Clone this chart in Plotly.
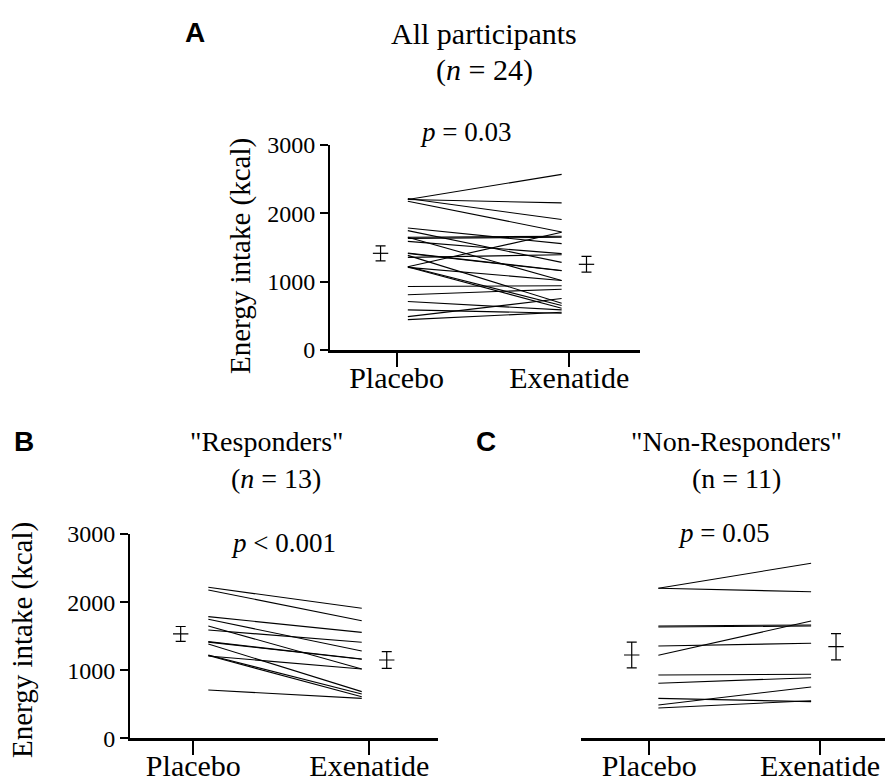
import plotly.graph_objects as go

# ---------------- data (kcal) ----------------
categories = ["Placebo", "Exenatide"]

# Responders (n = 13)
resp_placebo = [2217, 2178, 1786, 1747, 1649, 1590, 1419, 1412, 1385, 1223, 1215, 1209, 709]
resp_exenatide = [1909, 1727, 1556, 1282, 1018, 1410, 1164, 1160, 685, 651, 611, 1018, 587]

# Non-responders (n = 11)
nonresp_placebo = [2203, 2203, 1649, 1634, 1219, 1355, 930, 808, 587, 489, 445]
nonresp_exenatide = [2570, 2153, 1664, 1649, 1722, 1395, 940, 890, 538, 753, 552]

# All participants = responders + non-responders
all_placebo = resp_placebo + nonresp_placebo
all_exenatide = resp_exenatide + nonresp_exenatide

# mean and SEM
all_mean = [1415, 1254]
all_sem = [110, 115]
resp_mean = [1532, 1150]
resp_sem = [110, 122]
nonresp_mean = [1223, 1345]
nonresp_sem = [189, 193]

y_ticks = [0, 1000, 2000, 3000]

# ---------------- layout helpers ----------------
W, H = 885, 782
SERIF = "Liberation Serif"
SANS = "Liberation Sans"


def px_x(p):
    return p / W


def px_y(p):
    return 1 - p / H


panels = [
    dict(name="A", x="x", y="y", pl=all_placebo, ex=all_exenatide, mean=all_mean, sem=all_sem,
         line_x=(0.065, 0.956), bar_x=(-0.093, 1.10)),
    dict(name="B", x="x2", y="y2", pl=resp_placebo, ex=resp_exenatide, mean=resp_mean, sem=resp_sem,
         line_x=(0.085, 0.957), bar_x=(-0.072, 1.099)),
    dict(name="C", x="x3", y="y3", pl=nonresp_placebo, ex=nonresp_exenatide, mean=nonresp_mean,
         sem=nonresp_sem, line_x=(0.053, 0.948), bar_x=(-0.103, 1.094)),
]

fig = go.Figure()

for p in panels:
    xs, ys = [], []
    for a, b in zip(p["pl"], p["ex"]):
        xs += [p["line_x"][0], p["line_x"][1], None]
        ys += [a, b, None]
    fig.add_trace(go.Scatter(x=xs, y=ys, mode="lines", xaxis=p["x"], yaxis=p["y"],
                             line=dict(color="black", width=1.1), showlegend=False,
                             hoverinfo="skip"))
    fig.add_trace(go.Scatter(x=list(p["bar_x"]), y=p["mean"], mode="markers",
                             xaxis=p["x"], yaxis=p["y"],
                             marker=dict(symbol="line-ew-open", size=11, color="black",
                                         line=dict(color="black", width=1.2)),
                             error_y=dict(type="data", array=p["sem"], visible=True,
                                          color="black", thickness=1.2, width=5),
                             showlegend=False))

common_x = dict(tickmode="array", tickvals=[0, 1], ticktext=categories, automargin=False,
                showline=True, linecolor="black", linewidth=3, ticks="outside",
                ticklen=14, tickwidth=2, tickcolor="black", showgrid=False, zeroline=False,
                ticklabelstandoff=-15,
                tickfont=dict(family=SERIF, size=30, color="black"), fixedrange=True)
common_y = dict(range=[0, 3000], tickmode="array", tickvals=y_ticks, automargin=False,
                showline=True, linecolor="black", linewidth=2, ticks="outside",
                ticklen=8, tickwidth=2, tickcolor="black", showgrid=False, zeroline=False,
                tickfont=dict(family=SERIF, size=24, color="black"), fixedrange=True)

fig.update_layout(
    template="none",
    width=W, height=H, margin=dict(l=0, r=0, t=0, b=0, pad=0, autoexpand=False),
    autosize=False, showlegend=False,
    paper_bgcolor="white", plot_bgcolor="white",
    xaxis=dict(common_x, domain=[px_x(330), px_x(640)], range=[-0.386, 1.41], anchor="y"),
    yaxis=dict(common_y, domain=[px_y(350), px_y(145)], anchor="x"),
    xaxis2=dict(common_x, domain=[px_x(130), px_x(438.3)], range=[-0.36, 1.392], anchor="y2"),
    yaxis2=dict(common_y, domain=[px_y(738.3), px_y(534)], anchor="x2"),
    xaxis3=dict(common_x, domain=[px_x(580.7), 1.0], range=[-0.402, 1.381], anchor="y3"),
    yaxis3=dict(common_y, domain=[px_y(738.3), px_y(534)], anchor="x3",
                showline=False, ticks="", showticklabels=False),
)


def ann(text, x, y, size, family=SERIF, angle=0):
    fig.add_annotation(text=text, x=px_x(x), y=px_y(y), xref="paper", yref="paper",
                       showarrow=False, xanchor="center", yanchor="middle", textangle=angle,
                       font=dict(family=family, size=size, color="black"))


# panel letters
ann("<b>A</b>", 195, 32, 28, SANS)
ann("<b>B</b>", 24, 442, 28, SANS)
ann("<b>C</b>", 486, 442, 28, SANS)

# titles
ann("All participants", 484, 34, 30)
ann("(<i>n</i> = 24)", 484, 70, 30)
ann("\"Responders\"", 267, 441, 28)
ann("(<i>n</i> = 13)", 276, 478, 28)
ann("\"Non-Responders\"", 736, 441, 28)
ann("(n = 11)", 736, 478, 28)

# p-values
ann("<i>p</i> = 0.03", 465, 132, 27)
ann("<i>p</i> &lt; 0.001", 283, 543, 27)
ann("<i>p</i> = 0.05", 723, 533, 27)

# y-axis titles
ann("Energy intake (kcal)", 240, 256, 29, angle=-90)
ann("Energy intake (kcal)", 22, 640, 29, angle=-90)

fig.write_html(
    "out.html",
    config={"responsive": False, "displayModeBar": False},
    default_width="885px",
    default_height="782px",
    post_script="document.body.style.margin='0';document.body.style.overflow='hidden';",
)
